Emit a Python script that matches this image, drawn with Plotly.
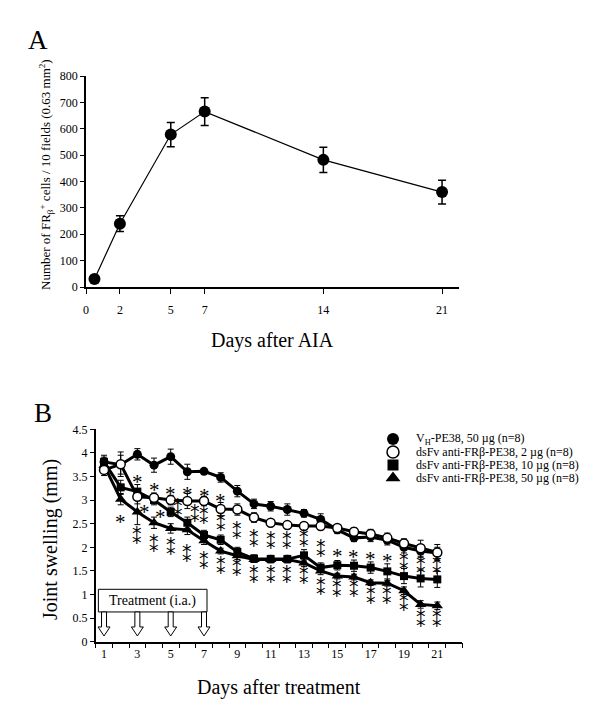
import plotly.graph_objects as go

# ---------------- data : panel A ----------------
aia_days = [0.5, 2, 5, 7, 14, 21]
aia_cells = [30, 240, 578, 665, 482, 360]
aia_err = [0, 30, 46, 53, 48, 45]
aia_ticks = [0, 2, 5, 7, 14, 21]

# ---------------- data : panel B ----------------
days = list(range(1, 22))
vh_pe38 = [3.81, 3.75, 3.97, 3.74, 3.92, 3.60, 3.61, 3.48, 3.19, 2.92, 2.87,
           2.80, 2.72, 2.59, 2.37, 2.20, 2.22, 2.15, 2.00, 1.92, 1.88]
vh_pe38_err = [0.14, 0.20, 0.12, 0.15, 0.16, 0.16, 0.06, 0.10, 0.12, 0.10, 0.10,
               0.12, 0.08, 0.12, 0.08, 0.08, 0.10, 0.10, 0.12, 0.14, 0.12]
dsfv_2 = [3.64, 3.76, 3.07, 3.05, 3.00, 2.98, 2.98, 2.81, 2.80, 2.63, 2.52,
          2.47, 2.45, 2.45, 2.41, 2.33, 2.28, 2.20, 2.08, 1.98, 1.89]
dsfv_2_err = [0.12, 0.26, 0.15, 0.10, 0.10, 0.16, 0.10, 0.14, 0.12, 0.10, 0.06,
              0.06, 0.06, 0.06, 0.06, 0.08, 0.10, 0.10, 0.10, 0.17, 0.17]
dsfv_10 = [3.81, 3.27, 3.18, 3.00, 2.75, 2.52, 2.26, 2.16, 1.90, 1.76, 1.75,
           1.75, 1.83, 1.57, 1.62, 1.61, 1.57, 1.49, 1.39, 1.34, 1.32]
dsfv_10_err = [0.10, 0.15, 0.15, 0.10, 0.10, 0.12, 0.10, 0.10, 0.10, 0.08, 0.08,
               0.08, 0.12, 0.10, 0.10, 0.12, 0.12, 0.16, 0.16, 0.18, 0.17]
dsfv_50 = [3.74, 3.02, 2.75, 2.52, 2.40, 2.37, 2.14, 1.92, 1.82, 1.74, 1.74,
           1.74, 1.67, 1.50, 1.39, 1.37, 1.25, 1.24, 1.08, 0.79, 0.76]
dsfv_50_err = [0.10, 0.12, 0.27, 0.12, 0.10, 0.10, 0.08, 0.06, 0.08, 0.06, 0.06,
               0.06, 0.08, 0.08, 0.06, 0.06, 0.06, 0.06, 0.08, 0.08, 0.08]

legend_labels = [
    "V<sub>H</sub>-PE38, 50 µg (n=8)",
    "dsFv anti-FRβ-PE38, 2 µg (n=8)",
    "dsFv anti-FRβ-PE38, 10 µg (n=8)",
    "dsFv anti-FRβ-PE38, 50 µg (n=8)",
]

treatment_days = [1, 3, 5, 7]

# significance marks: (day, level, number of stars)
stars = [
    (2, 2.63, 1),
    (3, 3.46, 1), (3.42, 2.83, 1), (3, 2.22, 2),
    (4, 3.30, 1), (4.38, 2.72, 1), (4, 2.05, 2),
    (5, 3.21, 1), (5.45, 2.82, 2), (5, 1.98, 2),
    (6, 3.21, 1), (6.44, 2.68, 2), (6, 1.84, 2),
    (7, 3.18, 1), (7, 2.65, 2), (7, 1.69, 2),
    (8, 3.07, 1), (8, 2.50, 2), (8, 1.59, 2),
    (9, 2.33, 2), (9, 1.53, 2),
    (10, 2.15, 2), (10, 1.40, 2),
    (11, 2.11, 2), (11, 1.40, 2),
    (12, 2.12, 2), (12, 1.39, 2),
    (13, 2.15, 2), (13, 1.38, 2),
    (14, 1.94, 2), (14, 1.13, 2),
    (15, 1.91, 1), (15, 1.09, 2),
    (16, 1.87, 1), (16, 1.09, 2),
    (17, 1.84, 1), (17, 0.95, 2),
    (18, 1.80, 1), (18, 0.94, 2),
    (19, 1.67, 2), (19, 0.79, 2),
    (20, 1.59, 2), (20, 0.47, 2),
    (21, 1.59, 2), (21, 0.47, 2),
]

SERIF = "Liberation Serif"
W, H = 600, 717

# plot-area pixel boxes (from the reference)
A_X = (86, 459)
A_Y = (76, 287)
B_X = (95.7, 462.3)
B_Y = (429.3, 641.7)


def px(x):
    return x / W


def py(y):
    return 1 - y / H


fig = go.Figure()

# ---------------- panel A ----------------
fig.add_trace(go.Scatter(
    x=aia_days, y=aia_cells, mode="lines+markers",
    line=dict(color="black", width=1.2),
    marker=dict(color="black", size=12),
    error_y=dict(type="data", array=aia_err, color="black", thickness=1.5, width=4),
    xaxis="x", yaxis="y", showlegend=False, cliponaxis=False,
))

# ---------------- panel B ----------------
markers = [
    dict(symbol="circle", color="black", size=9),
    dict(symbol="circle", color="white", size=9, line=dict(color="black", width=1.5)),
    dict(symbol="square", color="black", size=8),
    dict(symbol="triangle-up", color="black", size=10),
]
series = [
    (vh_pe38, vh_pe38_err, markers[0]),
    (dsfv_50, dsfv_50_err, markers[3]),
    (dsfv_10, dsfv_10_err, markers[2]),
    (dsfv_2, dsfv_2_err, markers[1]),
]
for vals, errs, mk in series:
    fig.add_trace(go.Scatter(
        x=days, y=vals, mode="lines+markers",
        line=dict(color="black", width=3),
        marker=mk,
        error_y=dict(type="data", array=errs, color="black", thickness=1, width=3),
        xaxis="x2", yaxis="y2", showlegend=False, cliponaxis=False,
    ))

# legend symbols on an overlay axis laid in screen pixels
leg_rows = [439 + 13 * i for i in range(len(legend_labels))]
for mk, ry in zip(markers, leg_rows):
    m = dict(mk)
    m["size"] = mk["size"] + 3
    fig.add_trace(go.Scatter(
        x=[393], y=[ry], mode="markers", marker=m,
        xaxis="x3", yaxis="y3", showlegend=False, hoverinfo="skip", cliponaxis=False,
    ))

annotations = []

# asterisks
for d, lvl, n in stars:
    if n == 1:
        annotations.append(dict(
            x=d, y=lvl, xref="x2", yref="y2", text="*", showarrow=False,
            xanchor="center", yanchor="middle", yshift=-4,
            font=dict(family=SERIF, size=21, color="black"),
        ))
    else:
        annotations.append(dict(
            x=d, y=lvl, xref="x2", yref="y2", text="⁑", showarrow=False,
            xanchor="center", yanchor="middle",
            font=dict(family="DejaVu Sans", size=19, color="black"),
        ))

for lab, ry in zip(legend_labels, leg_rows):
    annotations.append(dict(
        x=px(414), y=py(ry), xref="paper", yref="paper", text=lab,
        showarrow=False, font=dict(family=SERIF, size=12, color="black"),
        xanchor="left", yanchor="middle",
    ))

# treatment box label
annotations.append(dict(
    x=3.92, y=0.87, xref="x2", yref="y2", text="Treatment (i.a.)",
    showarrow=False, xanchor="center", yanchor="middle",
    font=dict(family=SERIF, size=14, color="black"),
))

# axis titles and panel letters
texts = [
    ("Days after AIA", sum(A_X) / 2, 340, 0, 20),
    ("Number of FR<sub>β</sub><sup>+</sup> cells / 10 fields (0.63 mm<sup>2</sup>)", 46, 175, -90, 13),
    ("Days after treatment", sum(B_X) / 2, 687, 0, 20),
    ("Joint swelling (mm)", 50, 540, -90, 20),
    ("A", 38, 40, 0, 27),
    ("B", 43, 413, 0, 27),
]
for t, x, y, ang, fs in texts:
    annotations.append(dict(
        x=px(x), y=py(y), xref="paper", yref="paper", text=t, textangle=ang,
        showarrow=False, xanchor="center", yanchor="middle",
        font=dict(family=SERIF, size=fs, color="black"),
    ))

shapes = [dict(type="rect", xref="x2", yref="y2", x0=0.66, x1=7.18, y0=0.63, y1=1.11,
               line=dict(color="black", width=1), fillcolor="white", layer="below")]
for d in treatment_days:
    shapes.append(dict(
        type="path", xref="x2", yref="y2", xsizemode="pixel", ysizemode="pixel",
        xanchor=d, yanchor=0.63,
        path="M -2.5 0 L 2.5 0 L 2.5 -15 L 6 -15 L 0 -24 L -6 -15 L -2.5 -15 Z",
        line=dict(color="black", width=1), fillcolor="white",
    ))

tickfont = dict(family=SERIF, size=12, color="black")
axis_common = dict(showline=True, linecolor="black", linewidth=1.5, ticks="outside",
                   tickcolor="black", showgrid=False, zeroline=False, tickfont=tickfont,
                   automargin=False)

fig.update_layout(
    width=W, height=H,
    margin=dict(l=0, r=0, t=0, b=0),
    paper_bgcolor="white", plot_bgcolor="rgba(0,0,0,0)",
    xaxis=dict(domain=[px(A_X[0]), px(A_X[1])], range=[0, 22], tickvals=aia_ticks,
               ticklen=5, ticklabelstandoff=6, anchor="y", **axis_common),
    yaxis=dict(domain=[py(A_Y[1]), py(A_Y[0])], range=[0, 800], dtick=100,
               ticklen=4, anchor="x", **axis_common),
    xaxis2=dict(domain=[px(B_X[0]), px(B_X[1])], range=[0.5, 22.5],
                tickvals=list(range(1, 22, 2)), ticklen=0, anchor="y2",
                minor=dict(tick0=0.5, dtick=1, ticks="outside", ticklen=5, tickcolor="black"),
                **axis_common),
    yaxis2=dict(domain=[py(B_Y[1]), py(B_Y[0])], range=[0, 4.5], dtick=0.5,
                ticklen=4, anchor="x2", **axis_common),
    xaxis3=dict(domain=[0, 1], range=[0, W], visible=False, anchor="y3", fixedrange=True),
    yaxis3=dict(domain=[0, 1], range=[H, 0], visible=False, anchor="x3", fixedrange=True),
    annotations=annotations,
    shapes=shapes,
)

fig.write_html("out.html", config={"displayModeBar": False},
               post_script="document.body.style.margin='0px';")
